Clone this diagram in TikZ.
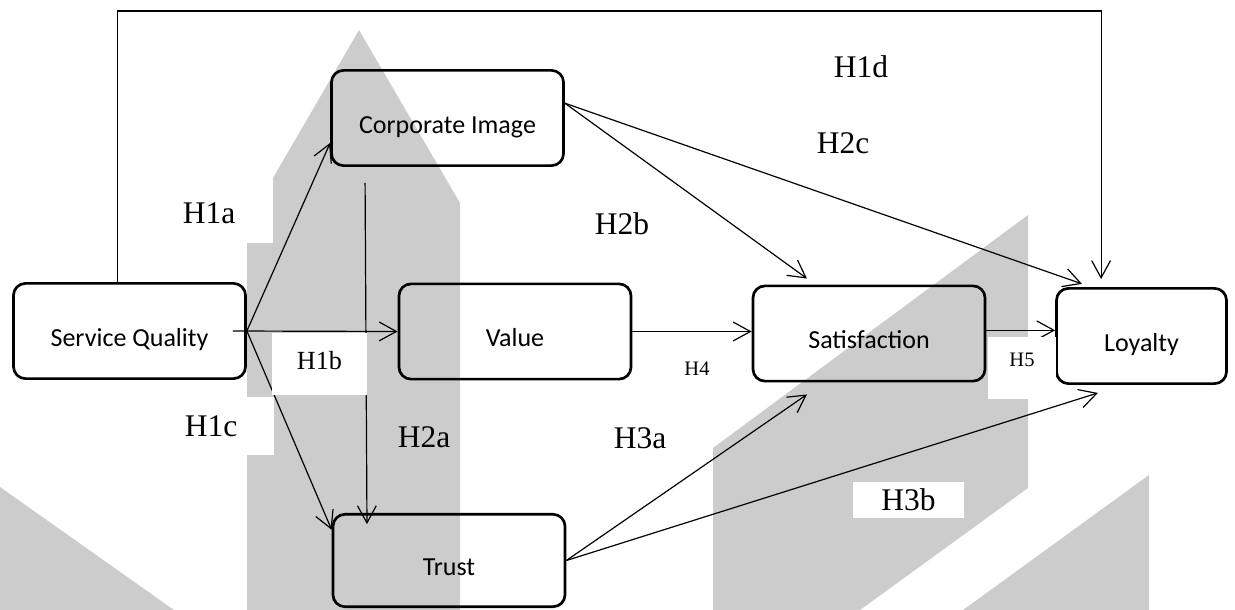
\documentclass[tikz,border=0pt]{standalone}
\usepackage{fontspec}
\setmainfont{Liberation Serif}
\newfontfamily\calibri{Carlito}
\usepackage{xcolor}
\usepackage{tikz}
\usetikzlibrary{arrows.meta,positioning,calc}
\definecolor{wmgray}{HTML}{CCCCCC}
\tikzset{
  >={Straight Barb[length=4.3mm, width=4.7mm]},
  factor/.style={draw, line width=1.9pt, rounded corners=3mm, minimum width=5.8cm, minimum height=2.38cm, inner sep=0pt, text height=9mm, text depth=1.5mm, font=\calibri\fontsize{18.5}{22}\selectfont},
  hyp/.style={inner sep=0pt, font=\fontsize{22.4}{26}\selectfont},
  hypmid/.style={inner sep=0pt, font=\fontsize{18.6}{22}\selectfont},
  hypsmall/.style={inner sep=0pt, font=\fontsize{14.6}{17}\selectfont},
  tag/.style={fill=white},
  conn/.style={->, line width=0.85pt},
  wmark/.style={fill=wmgray, draw=none},
}

\begin{document}
\begin{tikzpicture}[x=0.025cm, y=-0.025cm]
    \useasboundingbox (0,0) rectangle (1235,610);

    % watermark
    \fill[wmark] (359,30) -- (460,203) -- (460,610) -- (247,610) -- (247,243) -- (273,243) -- (273,178) -- cycle;
    \fill[wmark] (1028,215) -- (713,448) -- (713,610) -- (860,610) -- (1028,488) -- cycle;
    \fill[wmark] (1149,475) -- (963,610) -- (1149,610) -- cycle;
    \fill[wmark] (0,487) -- (174,610) -- (0,610) -- cycle;

    % nodes
    \node[factor] (squal)  at (129.5,331) {Service Quality};
    \node[factor] (cimage) at (447.5,118) {Corporate Image};
    \node[factor] (value)  at (515,331.5) {Value};
    \node[factor] (satis)  at (869,333.5) {Satisfaction};
    \node[factor, minimum width=4.25cm] (loyal) at (1141.5,336) {Loyalty};
    \node[factor, minimum height=2.31cm] (trust) at (449,560.5) {Trust};
    \coordinate (ldtop) at (0,11);

    % arrows
    \draw[conn] ([xshift=-0.31cm]squal.north) -- ([xshift=-0.31cm]squal.north |- ldtop) -| ([xshift=-1.01cm,yshift=0.2cm]loyal.north);
    \draw[conn] (squal.east) -- ([yshift=0.6cm]cimage.south west);
    \draw[conn] ([xshift=-0.35cm]squal.east) -- (value.west);
    \draw[conn] (squal.east) -- ([yshift=-0.42cm]trust.north west);
    \draw[conn] ([xshift=-2.06cm,yshift=-0.4cm]cimage.south) -- ([xshift=-2.05cm,yshift=-0.28cm]trust.north);
    \draw[conn] ([yshift=0.37cm]cimage.east) -- ([xshift=-1.55cm,yshift=0.15cm]satis.north);
    \draw[conn] ([yshift=0.37cm]cimage.east) -- ([xshift=0.67cm,yshift=0.08cm]loyal.north west);
    \draw[conn] (value.east) -- (value.east -| satis.west);
    \draw[conn] ([yshift=0.08cm]satis.east) -- ([yshift=0.08cm]satis.east -| loyal.west);
    \draw[conn] (trust.east) -- ([xshift=-1.55cm,yshift=-0.3cm]satis.south);
    \draw[conn] (trust.east) -- ([xshift=-1.09cm,yshift=-0.2cm]loyal.south);

    % labels
    \node[hyp] (HoneD)   at (861,67)  {H1d};
    \node[hyp] (HtwoC)   at (843,143) {H2c};
    \node[hyp] (HoneA)   at (209,213) {H1a};
    \node[hyp] (HtwoB)   at (622,224) {H2b};
    \node[hypmid, tag, minimum width=2.375cm, minimum height=1.55cm, text height=4.5mm, text depth=1.6mm] (HoneB) at (319.5,364) {H1b};
    \node[hyp, tag, minimum width=3.15cm, minimum height=1.45cm] (HoneC) at (211,426) {H1c};
    \node[hyp] (HtwoA)   at (424,437) {H2a};
    \node[hyp] (HthreeA) at (640,438) {H3a};
    \node[hyp, tag, minimum width=2.78cm, minimum height=0.9cm] (HthreeB) at (908.5,500) {H3b};
    \node[hypsmall] (Hfour) at (697,369) {H4};
    \node[hypsmall, tag, minimum width=1.7cm, minimum height=1.55cm, text height=3.5mm, text depth=4.1mm] (Hfive) at (1022,368) {H5};
\end{tikzpicture}
\end{document}
